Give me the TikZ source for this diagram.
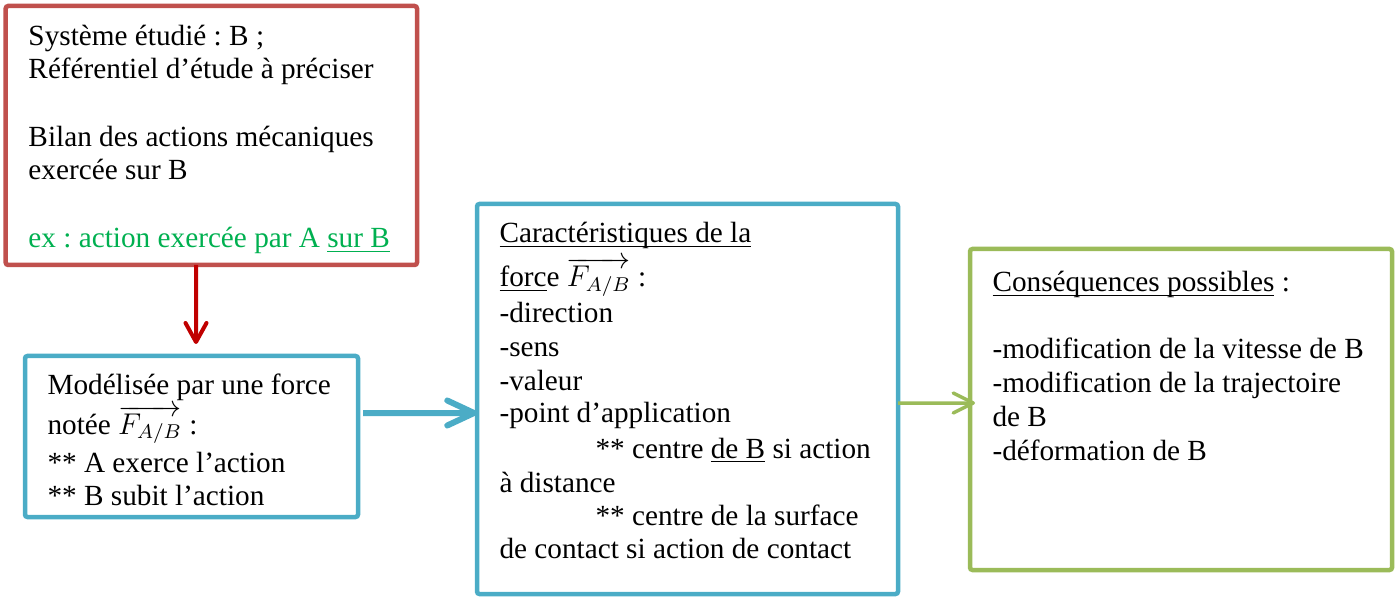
\documentclass[tikz,border=0pt]{standalone}
\usepackage{fontspec}
\setmainfont{Liberation Serif}
\usetikzlibrary{arrows.meta,fit}
\definecolor{boxred}{HTML}{C0504D}
\definecolor{arrred}{HTML}{C00000}
\definecolor{boxblue}{HTML}{4BACC6}
\definecolor{boxgreen}{HTML}{9BBB59}
\definecolor{txtgreen}{HTML}{00B050}
\frenchspacing
\newcommand\ulw[1]{\setbox0\hbox{#1}\rlap{\rule[-1.6pt]{\wd0}{0.5pt}}\box0\relax}
\newcommand\FAB{\smash{$\overrightarrow{F_{A/B}}$}}
\begin{document}
\begin{tikzpicture}[x=0.4pt,y=-0.4pt,
  frame/.style={draw, line width=1.8pt, inner sep=0pt, outer sep=0pt, rounded corners=1pt},
  txt/.style={anchor=base west, inner sep=0pt, font=\fontsize{11.7}{14}\selectfont\frenchspacing},
]
\useasboundingbox (0,0) rectangle (1397,598);
% frames
\node[frame, draw=boxred, fit={(5.7,6) (417,265)}] (sys) {};
\node[frame, draw=boxblue, fit={(25,356) (358,517)}] (mod) {};
\node[frame, draw=boxblue, fit={(477,204) (898,594)}] (car) {};
\node[frame, draw=boxgreen, fit={(970,249) (1392,570)}] (con) {};
% red box text
\node[txt] (s1) at (28,45.6) {Système étudié : B ;};
\node[txt] (s2) at (28,79) {Référentiel d’étude à préciser};
\node[txt] (s3) at (28,146.7) {Bilan des actions mécaniques};
\node[txt] (s4) at (28,180) {exercée sur B};
\node[txt, text=txtgreen] (s5) at (28,248) {ex : action exercée par A \ulw{sur B}};
% blue box 1 text
\node[txt] (m1) at (47,395) {Modélisée par une force};
\node[txt] (m2) at (47,434) {notée \FAB\ :};
\node[txt] (m3) at (47,472) {** A exerce l’action};
\node[txt] (m4) at (47,505) {** B subit l’action};
% blue box 2 text
\node[txt] (c1) at (499,243) {\ulw{Caractéristiques de la}};
\node[txt] (c2) at (499,287) {\ulw{forc}e \FAB\ :};
\node[txt] (c3) at (499,323) {-direction};
\node[txt] (c4) at (499,357) {-sens};
\node[txt] (c5) at (499,390) {-valeur};
\node[txt] (c6) at (499,423) {-point d’application};
\node[txt] (c7) at (595,458) {** centre \ulw{de B} si action};
\node[txt] (c8) at (499,492) {à distance};
\node[txt] (c9) at (595,525) {** centre de la surface};
\node[txt] (c10) at (499,558) {de contact si action de contact};
% green box text
\node[txt] (g1) at (992,292) {\ulw{Conséquences possibles} :};
\node[txt] (g2) at (992,359) {-modification de la vitesse de B};
\node[txt] (g3) at (992,393) {-modification de la trajectoire};
\node[txt] (g4) at (992,427) {de B};
\node[txt] (g5) at (992,460) {-déformation de B};
% connectors
\draw[arrred, line width=1.6pt, -{Straight Barb[round,length=7.6pt,width=8.4pt]}]
  ([xshift=-6.14pt]sys.south) -- ([xshift=1.8pt,yshift=4.8pt]mod.north);
\draw[boxblue, line width=2.4pt, -{Straight Barb[round,length=10.7pt,width=10pt]}]
  ([xshift=2pt,yshift=9.4pt]mod.east) -- ([yshift=-5.6pt]car.west);
\draw[boxgreen, line width=1.4pt, -{Straight Barb[round,length=8pt,width=8pt]}]
  ([yshift=-1.6pt]car.east) -- ([xshift=2pt,yshift=2.6pt]con.west);
\end{tikzpicture}
\end{document}
